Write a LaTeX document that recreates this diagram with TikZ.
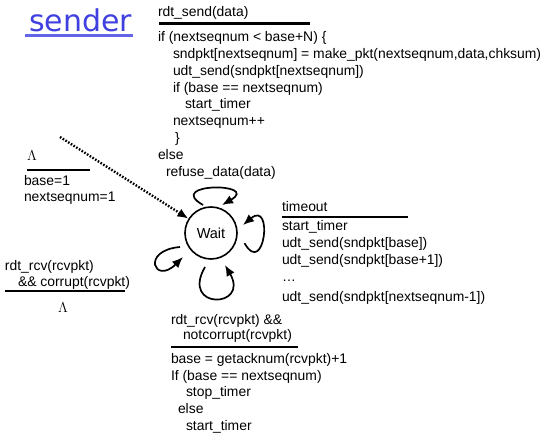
\documentclass[tikz,border=0pt]{standalone}
\usepackage{fontspec}
\setmainfont{Liberation Sans}
\newfontfamily\senderfont{DejaVu Sans}
\usetikzlibrary{arrows.meta,calc}
\definecolor{senderblue}{RGB}{64,64,224}
\definecolor{ulblue}{RGB}{100,100,232}
\newcommand\codefont{\fontsize{13.9}{16.8}\selectfont}
\begin{document}
\begin{tikzpicture}[x=1pt,y=-1pt,
  txt/.style={anchor=base west, inner sep=0pt, outer sep=0pt, font=\codefont},
  statebox/.style={circle, draw, line width=1.6pt, minimum size=52pt, inner sep=0pt, font=\fontsize{14.5}{16}\selectfont},
  loopline/.style={line width=1.7pt, -{Latex[length=11pt,width=9pt]}},
  initline/.style={line width=2.4pt, dash pattern=on 1.6pt off 1.6pt, -{Latex[length=11pt,width=9pt]}},
  sepline/.style={line width=#1}]
\useasboundingbox (0,0) rectangle (548,435);

% title
\node[anchor=base west, inner sep=0pt, font={\senderfont\fontsize{30}{30}\selectfont}, text=senderblue] (title) at (29,32) {sender};
\draw[ulblue, line width=2.2pt] (25,35.5) -- (133,35.5);

% state
\node[statebox] (w) at (211,233) {Wait};

% top block (rdt_send)
\node[txt] (a0) at (158,17) {rdt\_send(data)};
\draw[sepline=2.4pt] (159,23.5) -- (310,23.5);
\node[txt] (a1) at (158,42) {if (nextseqnum < base+N) \{};
\node[txt] (a2) at (173,59) {sndpkt[nextseqnum] = make\_pkt(nextseqnum,data,chksum)};
\node[txt] (a3) at (173,76) {udt\_send(sndpkt[nextseqnum])};
\node[txt] (a4) at (173,93) {if (base == nextseqnum)};
\node[txt] (a5) at (185,109) {start\_timer};
\node[txt] (a6) at (173,126) {nextseqnum++};
\node[txt] (a7) at (175,143) {\}};
\node[txt] (a8) at (158,160) {else};
\node[txt] (a9) at (166,177) {refuse\_data(data)};

% init block
\node[txt] (i0) at (27,161) {$\Lambda$};
\draw[sepline=1.2pt] (27,170) -- (90,170);
\node[txt] (i1) at (24,186) {base=1};
\node[txt] (i2) at (24,202) {nextseqnum=1};

% corrupt block
\node[txt] (c0) at (5,270) {rdt\_rcv(rcvpkt)};
\node[txt] (c1) at (18,287) {\&\& corrupt(rcvpkt)};
\draw[sepline=1.6pt] (5,291) -- (125,291);
\node[txt] (c2) at (58,312) {$\Lambda$};

% timeout block
\node[txt] (t0) at (282,212) {timeout};
\draw[sepline=1.6pt] (282,217) -- (408,217);
\node[txt] (t1) at (282,231) {start\_timer};
\node[txt] (t2) at (282,248) {udt\_send(sndpkt[base])};
\node[txt] (t3) at (282,265) {udt\_send(sndpkt[base+1])};
\node[txt] (t4) at (282,282) {…};
\node[txt] (t5) at (282,301) {udt\_send(sndpkt[nextseqnum-1])};

% ack block
\node[txt] (b0) at (171,324) {rdt\_rcv(rcvpkt) \&\&};
\node[txt] (b1) at (183,339) {notcorrupt(rcvpkt)};
\draw[sepline=2.4pt] (171,347) -- (298,347);
\node[txt] (b2) at (171,363) {base = getacknum(rcvpkt)+1};
\node[txt] (b3) at (171,380) {If (base == nextseqnum)};
\node[txt] (b4) at (186,396) {stop\_timer};
\node[txt] (b5) at (178,413) {else};
\node[txt] (b6) at (186,430) {start\_timer};

% loop end points
\coordinate (init) at (60,137);
\coordinate (topS) at ($(w)+(-8,-28)$);
\coordinate (topE) at ($(w)+(11,-28)$);
\coordinate (rgtS) at ($(w)+(33.5,10.2)$);
\coordinate (rgtE) at ($(w)+(32,-8)$);
\coordinate (botS) at ($(w)+(-6,34)$);
\coordinate (botE) at ($(w)+(14,32)$);
\coordinate (lftS) at ($(w)+(-31,14)$);
\coordinate (lftE) at ($(w)+(-28,24)$);

% connectors
\draw[initline] (init) -- (w);
\draw[loopline] (topS) .. controls +(-39,-22.5) and +(39,-22.5) .. (topE);
\draw[loopline] (rgtS) .. controls +(20,34.6) and +(30.6,-25.7) .. (rgtE);
\draw[loopline] (botS) .. controls +(-25,43.3) and +(25,43.3) .. (botE);
\draw[loopline] (lftS) .. controls +(-39.8,3.5) and +(-28.3,28.3) .. (lftE);
\end{tikzpicture}
\end{document}
